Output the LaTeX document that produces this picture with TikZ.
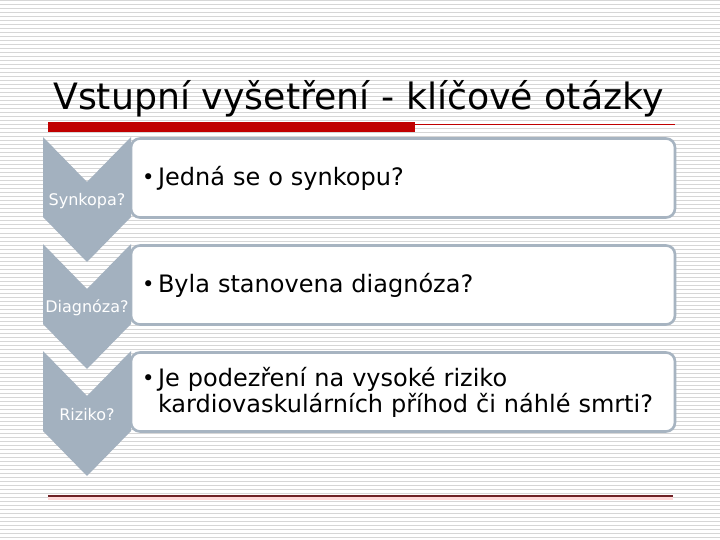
\documentclass[tikz,border=0pt]{standalone}
\usepackage{fontspec}
\setmainfont{DejaVu Sans}
\definecolor{chevgray}{HTML}{A3B1BF}
\definecolor{boxgray}{HTML}{A7B4C1}
\definecolor{stripegray}{HTML}{D6D6D6}
\definecolor{titlered}{HTML}{C00000}
\definecolor{footred}{HTML}{6E2226}
\newcommand{\chh}{80}
\newcommand{\dep}{45}
\newcommand{\bul}{\makebox[16pt][l]{\raisebox{0.5pt}{\fontsize{21}{21}\selectfont\textbullet}}}
\newcommand{\chevron}[3]{
	\fill [chev](43,#1) -- (87,#1+\dep) -- (131,#1) -- (131,#1+\chh) -- (87,#1+\chh+\dep) -- (43,#1+\chh) -- cycle;
	\node[chevlabel] (#2) at (87,#1+64) {#3};
	}
\newcommand{\krok}[3]{
	\node[krokbox] (#2) at (403,#1) {#3};
	}
\begin{document}
\begin{tikzpicture}[
      x=1pt, y=-1pt, %pixel grid of the slide
      stripe/.style={stripegray, line width=1pt},
      chev/.style={fill=chevgray},
      chevlabel/.style={text=white, font=\fontsize{16}{18}\selectfont},
      krokbox/.style={draw=boxgray, line width=2.6pt, fill=white, rounded corners=9pt,
        minimum width=544pt, minimum height=79pt, text width=522pt, align=left,
        font=\fontsize{24}{26}\selectfont},
      titletext/.style={font=\fontsize{36.3}{40}\selectfont, anchor=base west, inner sep=0pt}
    ]
    \useasboundingbox (0,0) rectangle (720,540);
    %striped background
    \fill[white] (0,0) rectangle (720,540);
    \foreach \y in {1,5,...,537}
      \draw[stripe] (0,\y) -- (720,\y);
    %title
    \node[titletext] (title) at (53,110) {Vstupní vyšetření - klíčové otázky};
    \fill[titlered] (48,122) rectangle (415,132);
    \draw[titlered, line width=1pt] (415,124.5) -- (675,124.5);
    % Draw the boxes
    \krok{178}{jedna}{\bul Jedná se o synkopu?};
    \krok{285}{byla}{\bul Byla stanovena diagnóza?};
    \krok{392}{podezreni}{\bul Je podezření na vysoké riziko\\\hspace*{16pt}kardiovaskulárních příhod či náhlé smrti?};
    % Draw the chevrons
    \chevron{137}{synkopa}{Synkopa?};
    \chevron{244}{diagnoza}{Diagnóza?};
    \chevron{351}{riziko}{Riziko?};
    %footer line
    \fill[red!15] (48,497) rectangle (673,499.5);
    \draw[footred, line width=1.4pt] (48,496) -- (673,496);
\end{tikzpicture}
\end{document}
